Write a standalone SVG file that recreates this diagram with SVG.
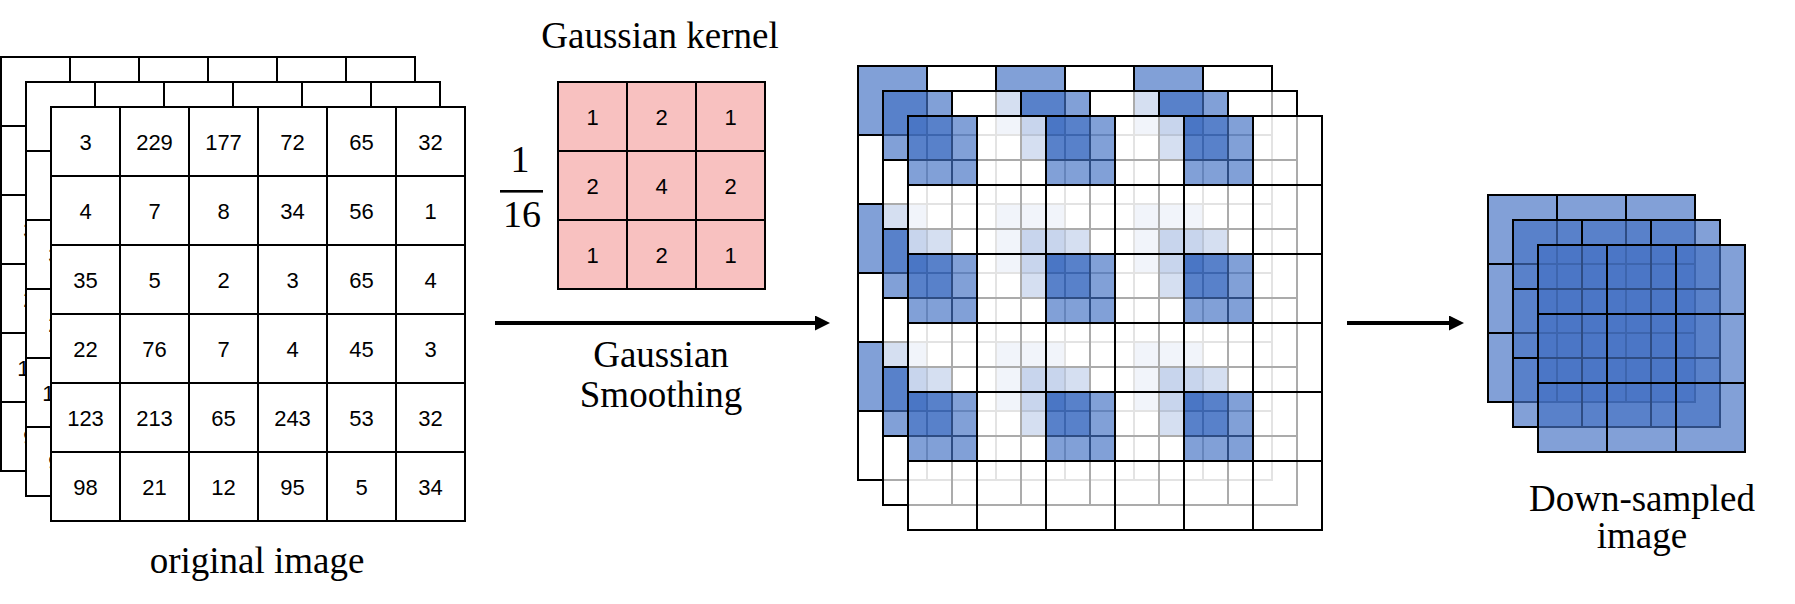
<svg xmlns="http://www.w3.org/2000/svg" xmlns:xlink="http://www.w3.org/1999/xlink" width="1795" height="604" viewBox="0 0 1795 604">
<style>
.grid{fill:none;stroke:#000;stroke-width:2}
.num{font-family:"Liberation Sans",Arial,sans-serif;font-size:22px;text-anchor:middle;fill:#000}
.lbl{font-family:"Liberation Serif","Times New Roman",serif;font-size:37px;text-anchor:middle;fill:#000}
.frac{font-family:"Liberation Serif","Times New Roman",serif;font-size:38px;text-anchor:middle;fill:#000}
.paper{fill:#fff}
.blue{fill:#4472C4}
.conn{stroke:#000;stroke-width:4;fill:none}
</style>
<defs>
<path id="grid6" d="M0,0H414V414H0Z M69,0V414 M138,0V414 M207,0V414 M276,0V414 M345,0V414 M0,69H414 M0,138H414 M0,207H414 M0,276H414 M0,345H414"/>
<path id="grid3" d="M0,0H207V207H0Z M69,0V207 M138,0V207 M0,69H207 M0,138H207"/>
<g id="bluecells" class="blue">
<rect x="0" y="0" width="69" height="69"/><rect x="138" y="0" width="69" height="69"/><rect x="276" y="0" width="69" height="69"/>
<rect x="0" y="138" width="69" height="69"/><rect x="138" y="138" width="69" height="69"/><rect x="276" y="138" width="69" height="69"/>
<rect x="0" y="276" width="69" height="69"/><rect x="138" y="276" width="69" height="69"/><rect x="276" y="276" width="69" height="69"/>
</g>
<g id="smoothlayer">
<g opacity="0.67"><rect class="paper" width="414" height="414"/><use xlink:href="#bluecells"/></g>
<use xlink:href="#grid6" class="grid"/>
</g>
<g id="downlayer">
<rect class="blue" width="207" height="207" opacity="0.67"/>
<use xlink:href="#grid3" class="grid"/>
</g>
<marker id="arrowhead" markerUnits="userSpaceOnUse" markerWidth="15" markerHeight="15" refX="3" refY="7.5" orient="auto">
<path d="M0,0L15,7.5L0,15Z" fill="#000"/>
</marker>
</defs>
<rect width="1795" height="604" fill="#fff"/>

<g id="original-image">
<g transform="translate(1,57)">
<rect class="paper" width="414" height="414"/>
<use xlink:href="#grid6" class="grid"/>
<text class="num" x="34.5" y="42.5">3</text><text class="num" x="34.5" y="111.5">4</text><text class="num" x="34.5" y="180.5">35</text><text class="num" x="34.5" y="249.5">22</text><text class="num" x="34.5" y="318.5">123</text><text class="num" x="34.5" y="387.5">98</text>
</g>
<g transform="translate(26,82)">
<rect class="paper" width="414" height="414"/>
<use xlink:href="#grid6" class="grid"/>
<text class="num" x="34.5" y="42.5">3</text><text class="num" x="34.5" y="111.5">4</text><text class="num" x="34.5" y="180.5">35</text><text class="num" x="34.5" y="249.5">22</text><text class="num" x="34.5" y="318.5">123</text><text class="num" x="34.5" y="387.5">98</text>
</g>
<g transform="translate(51,107)">
<rect class="paper" width="414" height="414"/>
<use xlink:href="#grid6" class="grid"/>
<text class="num" x="34.5" y="42.5">3</text><text class="num" x="103.5" y="42.5">229</text><text class="num" x="172.5" y="42.5">177</text><text class="num" x="241.5" y="42.5">72</text><text class="num" x="310.5" y="42.5">65</text><text class="num" x="379.5" y="42.5">32</text>
<text class="num" x="34.5" y="111.5">4</text><text class="num" x="103.5" y="111.5">7</text><text class="num" x="172.5" y="111.5">8</text><text class="num" x="241.5" y="111.5">34</text><text class="num" x="310.5" y="111.5">56</text><text class="num" x="379.5" y="111.5">1</text>
<text class="num" x="34.5" y="180.5">35</text><text class="num" x="103.5" y="180.5">5</text><text class="num" x="172.5" y="180.5">2</text><text class="num" x="241.5" y="180.5">3</text><text class="num" x="310.5" y="180.5">65</text><text class="num" x="379.5" y="180.5">4</text>
<text class="num" x="34.5" y="249.5">22</text><text class="num" x="103.5" y="249.5">76</text><text class="num" x="172.5" y="249.5">7</text><text class="num" x="241.5" y="249.5">4</text><text class="num" x="310.5" y="249.5">45</text><text class="num" x="379.5" y="249.5">3</text>
<text class="num" x="34.5" y="318.5">123</text><text class="num" x="103.5" y="318.5">213</text><text class="num" x="172.5" y="318.5">65</text><text class="num" x="241.5" y="318.5">243</text><text class="num" x="310.5" y="318.5">53</text><text class="num" x="379.5" y="318.5">32</text>
<text class="num" x="34.5" y="387.5">98</text><text class="num" x="103.5" y="387.5">21</text><text class="num" x="172.5" y="387.5">12</text><text class="num" x="241.5" y="387.5">95</text><text class="num" x="310.5" y="387.5">5</text><text class="num" x="379.5" y="387.5">34</text>
</g>
<text class="lbl" x="257" y="573">original image</text>
</g>

<g id="gaussian-kernel">
<text class="lbl" x="660" y="48">Gaussian kernel</text>
<text class="frac" x="520" y="172">1</text>
<rect x="500" y="190" width="43" height="2.6" fill="#000"/>
<text class="frac" x="522" y="227">16</text>
<g transform="translate(558,82)">
<rect width="207" height="207" fill="#F8C1C0"/>
<use xlink:href="#grid3" class="grid"/>
<text class="num" x="34.5" y="42.5">1</text><text class="num" x="103.5" y="42.5">2</text><text class="num" x="172.5" y="42.5">1</text>
<text class="num" x="34.5" y="111.5">2</text><text class="num" x="103.5" y="111.5">4</text><text class="num" x="172.5" y="111.5">2</text>
<text class="num" x="34.5" y="180.5">1</text><text class="num" x="103.5" y="180.5">2</text><text class="num" x="172.5" y="180.5">1</text>
</g>
</g>

<g id="smoothed-image">
<use xlink:href="#smoothlayer" transform="translate(858,66)"/>
<use xlink:href="#smoothlayer" transform="translate(883,91)"/>
<use xlink:href="#smoothlayer" transform="translate(908,116)"/>
</g>

<g id="downsampled-image">
<use xlink:href="#downlayer" transform="translate(1488,195)"/>
<use xlink:href="#downlayer" transform="translate(1513,220)"/>
<use xlink:href="#downlayer" transform="translate(1538,245)"/>
<text class="lbl" x="1642" y="511">Down-sampled</text>
<text class="lbl" x="1642" y="548">image</text>
</g>

<g id="connectors">
<line class="conn" x1="495" y1="323" x2="818" y2="323" marker-end="url(#arrowhead)"/>
<text class="lbl" x="661" y="367">Gaussian</text>
<text class="lbl" x="661" y="407">Smoothing</text>
<line class="conn" x1="1347" y1="323" x2="1452" y2="323" marker-end="url(#arrowhead)"/>
</g>
</svg>
